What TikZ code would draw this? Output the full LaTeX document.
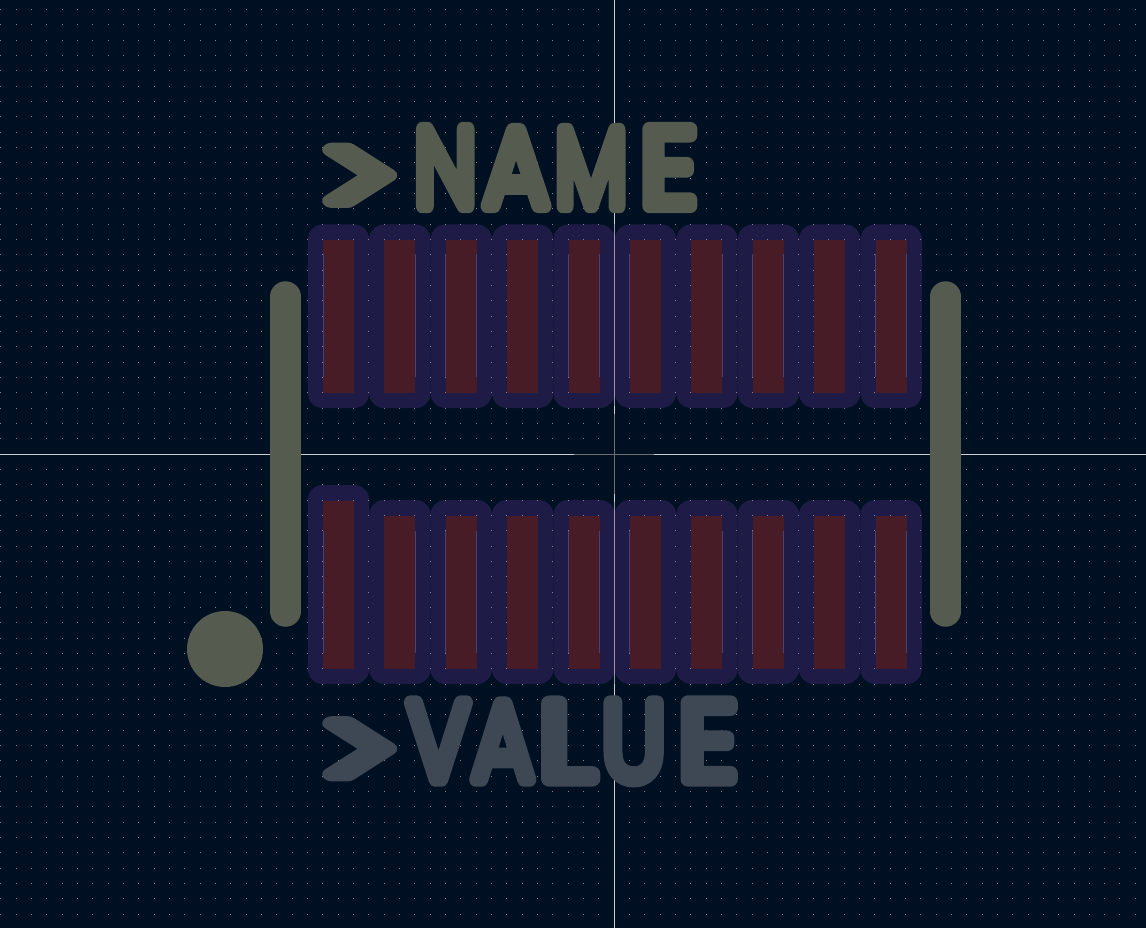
\documentclass[tikz,border=0pt]{standalone}
\usepackage{fontspec}
\usepackage{graphicx}
\usepackage{tikz}
\newfontfamily\silkfont[FakeBold=13]{Poppins Light}
\definecolor{boardbg}{RGB}{0,16,35}
\definecolor{griddot}{RGB}{135,135,140}
\definecolor{crossline}{RGB}{205,205,205}
\definecolor{crossdim}{RGB}{110,110,110}
\definecolor{crossmask}{RGB}{160,145,175}
\definecolor{maskcol}{RGB}{30,27,70}
\definecolor{padedge}{RGB}{76,66,112}
\definecolor{copper}{RGB}{71,28,38}
\definecolor{silkcol}{RGB}{85,92,79}
\definecolor{fabcol}{RGB}{61,72,84}
% one stretched letter, then a gap
\newcommand{\silkglyph}[3]{\scalebox{#1}[1]{#2}\kern #3pt}
\newcommand{\silkarrow}[1]{\raisebox{-10pt}{\scalebox{1.45}[1]{>}}\kern #1pt}

\begin{document}
\begin{tikzpicture}[x=1pt, y=-1pt,
    maskbox/.style={fill=maskcol, rounded corners=15pt, minimum width=61.5pt, inner sep=0pt},
    padbox/.style={fill=copper, minimum width=31pt, inner sep=0pt},
    silkbar/.style={draw=silkcol, line width=30.5pt, line cap=round},
    silktext/.style={inner sep=0pt, anchor=west, font=\silkfont\fontsize{110}{110}\selectfont}]
    \useasboundingbox (0,0) rectangle (1146,928);
    \fill[boardbg] (0,0) rectangle (1146,928);

    % solder mask, one row above and one below
    \foreach \i in {0,...,9} {
        \node[maskbox, minimum height=183.5pt] (MT\i) at (338.5+61.4*\i,316.25) {};
        \ifnum\i>0
            \node[maskbox, minimum height=184pt] (MB\i) at (338.5+61.4*\i,592) {};
        \fi
    }
    \node[maskbox, minimum height=199pt] (MB0) at (338.5,584.5) {};

    % grid
    \foreach \i in {-40,...,34}
        \foreach \j in {-29,...,30} {
            \pgfmathtruncatemacro{\gx}{614.1+15.33*\i}
            \pgfmathtruncatemacro{\gy}{454.2+15.33*\j}
            \fill[griddot] (\gx,\gy) rectangle ++(1,1);
        }

    % origin
    \draw[crossline, line width=0.9pt] (614.5,0) -- (614.5,928);
    \draw[crossline, line width=0.9pt] (0,454.5) -- (1146,454.5);
    \draw[crossdim, line width=0.9pt] (574,454.5) -- (654,454.5);
    \draw[crossdim, line width=0.9pt] (614.5,414) -- (614.5,494);
    \draw[crossmask, line width=0.9pt] (614.5,224) -- (614.5,406);
    \draw[crossmask, line width=0.9pt] (614.5,502) -- (614.5,684);

    % pads
    \foreach \i in {0,...,9} {
        \node[padbox, minimum height=153pt] (PT\i) at (338.5+61.4*\i,316.5) {};
        \ifnum\i>0
            \node[padbox, minimum height=153pt] (PB\i) at (338.5+61.4*\i,592.5) {};
        \fi
    }
    \node[padbox, minimum height=168pt] (PB0) at (338.5,585) {};

    % faint pad edges
    \foreach \ex in {323.5,415.5,445.5,476.5,568.5,599.5,629.5,722.5,752.5,783.5,875.5,906.5} {
        \draw[padedge, line width=1pt] (\ex,254) -- (\ex,377);
        \draw[padedge, line width=1pt] (\ex,531) -- (\ex,653);
    }

    % silkscreen
    \draw[silkbar] (285.5,296.5) -- (285.5,611.5);
    \draw[silkbar] (945.5,296.5) -- (945.5,611.5);
    \fill[silkcol] (225,649) circle (38);

    \node[silktext] (name) at (320,172.5) {\pgfsetroundjoin\color{silkcol}\silkarrow{16}\silkglyph{.81}{N}{8}\silkglyph{.9}{A}{7}\silkglyph{.77}{M}{14}\silkglyph{1.01}{E}{0}};
    \node[silktext] (value) at (320,746) {\pgfsetroundjoin\color{fabcol}\silkarrow{9}\silkglyph{.85}{V}{3}\silkglyph{.85}{A}{6}\silkglyph{1.19}{L}{8}\silkglyph{.86}{U}{14}\silkglyph{1.05}{E}{0}};
\end{tikzpicture}
\end{document}
